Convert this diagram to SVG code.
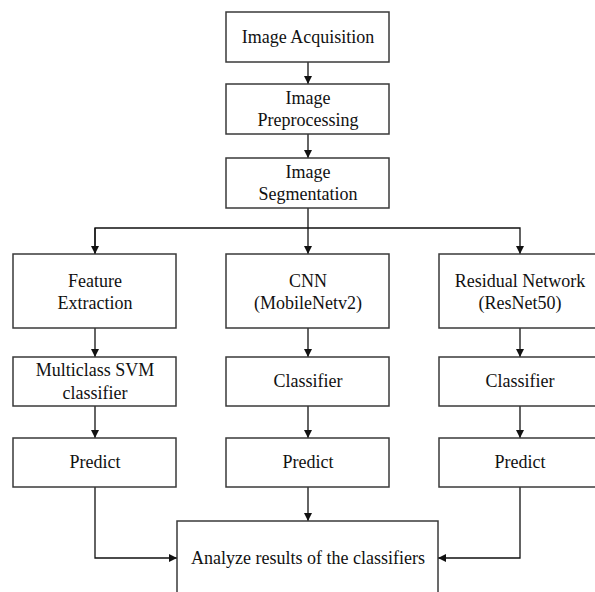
<svg xmlns="http://www.w3.org/2000/svg" width="595" height="592" viewBox="0 0 595 592">
<style>
.box{fill:#fff;stroke:#3a3a3a;stroke-width:1.5}
.t{font-family:'Liberation Serif','DejaVu Serif',serif;font-size:18px;fill:#111;text-anchor:middle;dominant-baseline:central}
.c{fill:none;stroke:#111;stroke-width:1.3}
</style>
<defs>
<marker id="ah" viewBox="0 0 10 10" refX="10" refY="5" markerWidth="8" markerHeight="8" markerUnits="userSpaceOnUse" orient="auto">
<path d="M0,0 L10,5 L0,10 z" fill="#111"/>
</marker>
</defs>
<rect width="595" height="592" fill="#fff"/>
<g id="connectors">
<path class="c" d="M308,62 V84" marker-end="url(#ah)"/>
<path class="c" d="M308,134 V158" marker-end="url(#ah)"/>
<path class="c" d="M308,208 V254" marker-end="url(#ah)"/>
<path class="c" d="M95,254 V228 H520 V254" marker-end="url(#ah)"/>
<path class="c" d="M95,228 V254" marker-end="url(#ah)"/>
<path class="c" d="M95,328 V357" marker-end="url(#ah)"/>
<path class="c" d="M308,328 V357" marker-end="url(#ah)"/>
<path class="c" d="M520,328 V357" marker-end="url(#ah)"/>
<path class="c" d="M95,406 V438" marker-end="url(#ah)"/>
<path class="c" d="M308,406 V438" marker-end="url(#ah)"/>
<path class="c" d="M520,406 V438" marker-end="url(#ah)"/>
<path class="c" d="M308,487 V521" marker-end="url(#ah)"/>
<path class="c" d="M95,487 V558 H177" marker-end="url(#ah)"/>
<path class="c" d="M520,487 V558 H438" marker-end="url(#ah)"/>
</g>
<g id="acq"><rect class="box" x="226" y="12" width="163" height="50"/><text class="t" x="308" y="37">Image Acquisition</text></g>
<g id="pre"><rect class="box" x="226" y="84" width="163" height="50"/><text class="t" x="308" y="98">Image</text><text class="t" x="308" y="120">Preprocessing</text></g>
<g id="seg"><rect class="box" x="226" y="158" width="163" height="50"/><text class="t" x="308" y="172">Image</text><text class="t" x="308" y="194">Segmentation</text></g>
<g id="feat"><rect class="box" x="13" y="254" width="163" height="74"/><text class="t" x="95" y="281">Feature</text><text class="t" x="95" y="303">Extraction</text></g>
<g id="cnn"><rect class="box" x="226" y="254" width="163" height="74"/><text class="t" x="308" y="281">CNN</text><text class="t" x="308" y="303">(MobileNetv2)</text></g>
<g id="res"><rect class="box" x="439" y="254" width="163" height="74"/><text class="t" x="520" y="281">Residual Network</text><text class="t" x="520" y="303">(ResNet50)</text></g>
<g id="svm"><rect class="box" x="13" y="357" width="163" height="49"/><text class="t" x="95" y="370">Multiclass SVM</text><text class="t" x="95" y="393">classifier</text></g>
<g id="cls1"><rect class="box" x="226" y="357" width="163" height="49"/><text class="t" x="308" y="381">Classifier</text></g>
<g id="cls2"><rect class="box" x="439" y="357" width="163" height="49"/><text class="t" x="520" y="381">Classifier</text></g>
<g id="p1"><rect class="box" x="13" y="438" width="163" height="49"/><text class="t" x="95" y="462">Predict</text></g>
<g id="p2"><rect class="box" x="226" y="438" width="163" height="49"/><text class="t" x="308" y="462">Predict</text></g>
<g id="p3"><rect class="box" x="439" y="438" width="163" height="49"/><text class="t" x="520" y="462">Predict</text></g>
<g id="ana"><rect class="box" x="177" y="521" width="261" height="90"/><text class="t" x="308" y="558">Analyze results of the classifiers</text></g>
</svg>
